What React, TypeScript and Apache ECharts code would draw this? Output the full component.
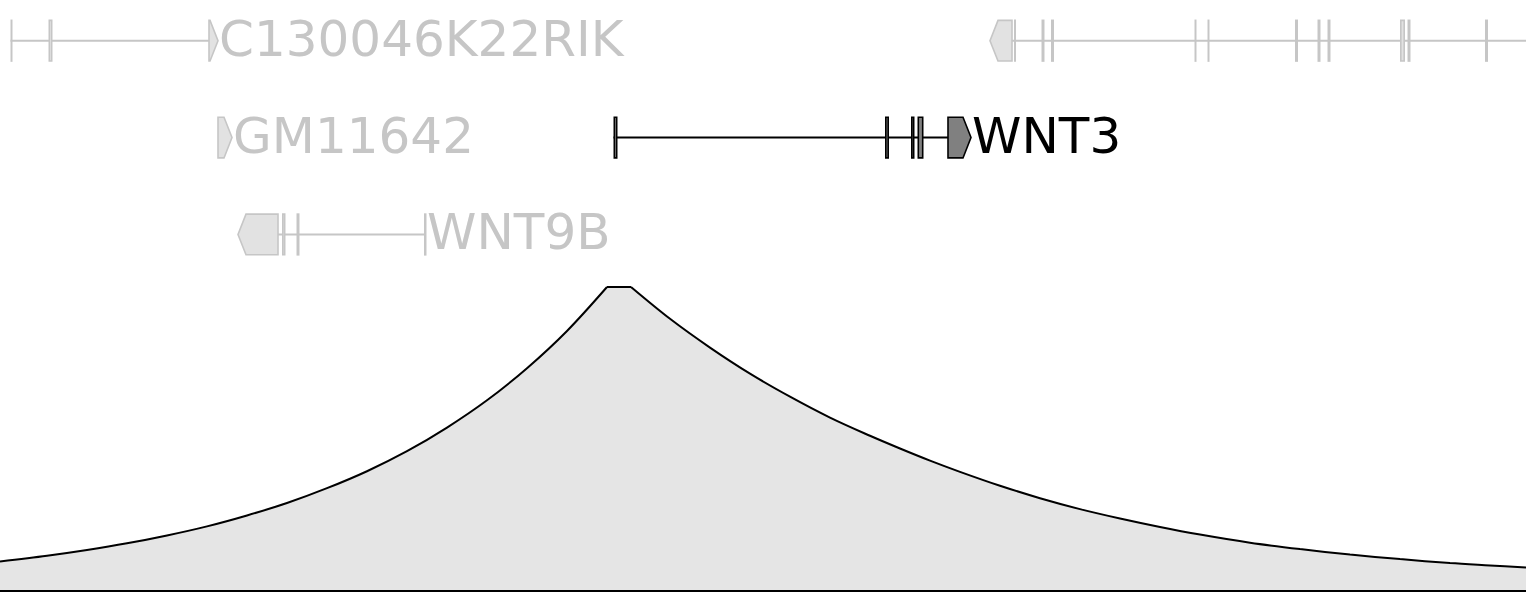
import React, { useEffect, useRef } from 'react';
import * as echarts from 'echarts';

// ---- Gene track data (positions along the locus, same scale as the signal) ----
const geneNames = ['C130046K22RIK', '', 'GM11642', 'WNT3', 'WNT9B'];
const geneRows = [0, 0, 1, 1, 2];
const geneStrands = [1, -1, 1, 1, -1];
const geneStarts = [10.5, 990, 218, 613.5, 238];
const geneEnds = [218, 1560, 232, 971, 426];
const geneHighlight = [false, false, false, true, false];

const exonsC130046K22RIK = [[10.5, 12.5], [48.5, 52.5], [209, 218]];
const exonsRightGene = [
  [990, 1012], [1014, 1016], [1041.5, 1044.5], [1051, 1054], [1194.5, 1196.5],
  [1207.5, 1209.5], [1295, 1298], [1317.5, 1320.5], [1327.5, 1330.5], [1400, 1405],
  [1407.5, 1410.5], [1485, 1488],
];
const exonsGM11642 = [[218, 232]];
const exonsWNT3 = [[613.5, 617.5], [885, 889], [911, 914.5], [917.5, 923.5], [948, 971]];
const exonsWNT9B = [[238, 278], [282, 285.5], [296.5, 299.5], [424, 426.5]];
const geneExons = [exonsC130046K22RIK, exonsRightGene, exonsGM11642, exonsWNT3, exonsWNT9B];

// ---- Signal track (peak = 100) ----
const signalX = [
  0, 47, 87, 127, 167, 207, 247, 287, 327, 367, 407, 447, 487, 527, 567, 607,
  631, 670, 710, 750, 790, 830, 870, 900, 930, 960, 1000, 1040, 1080, 1120, 1160,
  1200, 1250, 1300, 1350, 1400, 1450, 1490, 1526,
];
const signalY = [
  9.4, 11.3, 13.2, 15.4, 18.0, 21.0, 24.6, 28.7, 33.6, 39.2, 45.8, 53.6, 62.6, 73.2, 85.5, 100,
  100, 89.5, 80.0, 71.4, 63.8, 56.9, 50.9, 46.7, 42.7, 39.0, 34.4, 30.3, 26.7, 23.6, 20.8,
  18.3, 15.6, 13.5, 11.7, 10.2, 8.9, 8.1, 7.4,
];
const peakStart = 607;
const peakEnd = 631;
const locusMin = 0;
const locusMax = 1526;

export default function App() {
  const ref = useRef<HTMLDivElement>(null);
  useEffect(() => {
    if (!ref.current) return;
    const chart = echarts.init(ref.current, undefined, { renderer: 'svg' });

    const pts = signalX.map((x, i) => [x, signalY[i]]);
    const leftPts = pts.filter((p) => p[0] <= peakStart);
    const topPts = pts.filter((p) => p[0] >= peakStart && p[0] <= peakEnd);
    const rightPts = pts.filter((p) => p[0] >= peakEnd);

    const areaSeries = (data: number[][], smooth: number | boolean) => ({
      type: 'line',
      xAxisIndex: 1,
      yAxisIndex: 1,
      data,
      smooth,
      symbol: 'none',
      lineStyle: { color: '#000000', width: 2 },
      areaStyle: { color: '#e5e5e5', opacity: 1 },
      z: 2,
    });

    const geneData = geneNames.map((_, i) => [geneStarts[i], geneRows[i], i]);

    chart.setOption({
      animation: false,
      grid: [
        { left: 0, right: 0, top: 0, height: 280 },
        { left: 0, right: 0, top: 287, bottom: 22 },
      ],
      xAxis: [
        { type: 'value', gridIndex: 0, min: locusMin, max: locusMax, show: false },
        {
          type: 'value', gridIndex: 1, min: locusMin, max: locusMax,
          axisLine: { show: true, onZero: true, lineStyle: { color: '#000000', width: 3 } },
          axisTick: { show: false }, axisLabel: { show: false }, splitLine: { show: false },
        },
      ],
      yAxis: [
        { type: 'value', gridIndex: 0, min: -0.42, max: 2.47, inverse: true, show: false },
        { type: 'value', gridIndex: 1, min: 0, max: 100, show: false },
      ],
      series: [
        {
          type: 'custom',
          xAxisIndex: 0,
          yAxisIndex: 0,
          clip: true,
          data: geneData,
          encode: { x: 0, y: 1 },
          renderItem: (params: any, api: any) => {
            const i = api.value(2);
            const row = api.value(1);
            const exons = geneExons[i];
            const strand = geneStrands[i];
            const hl = geneHighlight[i];
            const stroke = hl ? '#000000' : '#c6c6c6';
            const fill = hl ? '#808080' : '#e2e2e2';
            const lw = 1.6;
            const unit = api.size([0, 1])[1];
            const h = unit * 0.42;
            const cy = api.coord([geneStarts[i], row])[1];
            const top = cy - h / 2;
            const bot = cy + h / 2;
            const xs = (v: number) => api.coord([v, row])[0];
            const children: any[] = [];
            children.push({
              type: 'line',
              shape: { x1: xs(geneStarts[i]), y1: cy, x2: xs(geneEnds[i]), y2: cy },
              style: { stroke, lineWidth: 2 },
            });
            exons.forEach((ex: number[], k: number) => {
              const x0 = xs(ex[0]);
              const x1 = xs(ex[1]);
              const w = x1 - x0;
              const isTerm = strand > 0 ? k === exons.length - 1 : k === 0;
              if (isTerm) {
                const tip = Math.min(8, w);
                const p = strand > 0
                  ? [[x0, top], [x1 - tip, top], [x1, cy], [x1 - tip, bot], [x0, bot]]
                  : [[x1, top], [x0 + tip, top], [x0, cy], [x0 + tip, bot], [x1, bot]];
                children.push({ type: 'polygon', shape: { points: p }, style: { fill, stroke, lineWidth: lw } });
              } else {
                children.push({
                  type: 'rect',
                  shape: { x: x0 + lw / 2, y: top, width: Math.max(w - lw, 0.3), height: h },
                  style: { fill, stroke, lineWidth: lw },
                });
              }
            });
            if (geneNames[i]) {
              children.push({
                type: 'text',
                style: {
                  text: geneNames[i],
                  x: xs(geneEnds[i]) + 1,
                  y: cy - 2,
                  fill: hl ? '#000000' : '#c6c6c6',
                  font: '50px "DejaVu Sans"',
                  align: 'left',
                  verticalAlign: 'middle',
                },
              });
            }
            return { type: 'group', children };
          },
        },
        areaSeries(leftPts, 0.33),
        areaSeries(topPts, false),
        areaSeries(rightPts, 0.33),
      ],
    });
    return () => chart.dispose();
  }, []);
  return (
    <div
      ref={ref}
      style={{ position: 'absolute', left: 0, top: 0, width: 1526, height: 612, background: '#ffffff' }}
    />
  );
}
